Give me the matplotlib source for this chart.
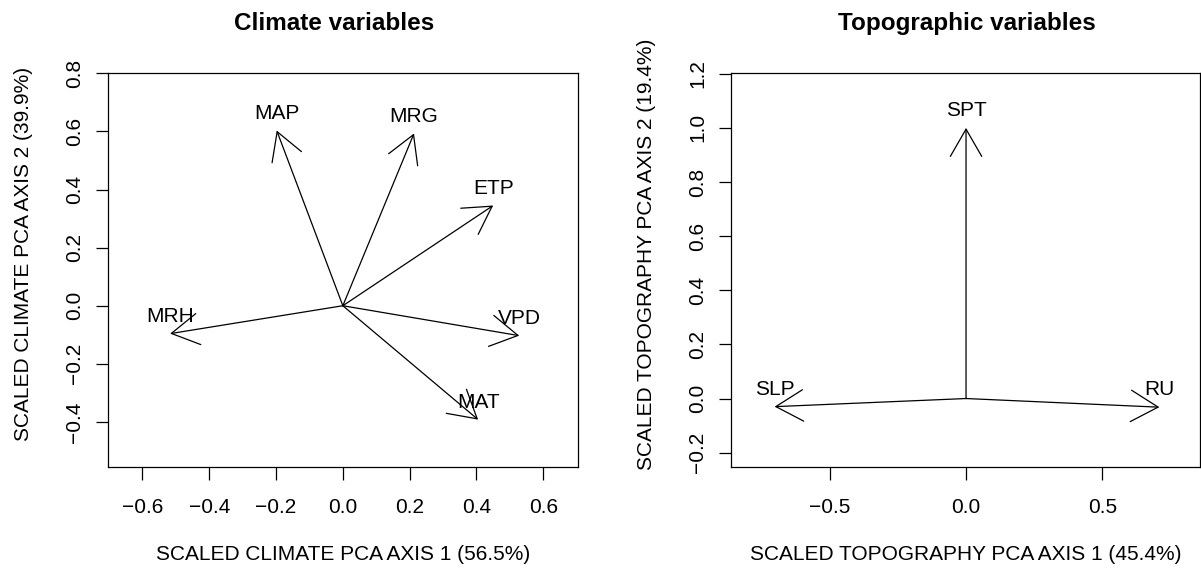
import numpy as np
import matplotlib
matplotlib.use("Agg")
import matplotlib.pyplot as plt
from matplotlib.patches import FancyArrowPatch

plt.rcParams['font.family'] = ['Liberation Sans', 'DejaVu Sans']

# --- data ---
clim_names = ['MAP', 'MRG', 'ETP', 'VPD', 'MAT', 'MRH']
clim_x = [-0.198, 0.213, 0.450, 0.528, 0.405, -0.517]
clim_y = [0.603, 0.593, 0.345, -0.103, -0.392, -0.096]

topo_names = ['SPT', 'SLP', 'RU']
topo_x = [0.0, -0.702, 0.709]
topo_y = [1.0, -0.030, -0.032]

clim_xticks = [-0.6, -0.4, -0.2, 0.0, 0.2, 0.4, 0.6]
clim_yticks = [-0.4, -0.2, 0.0, 0.2, 0.4, 0.6, 0.8]
topo_xticks = [-0.5, 0.0, 0.5]
topo_yticks = [-0.2, 0.0, 0.2, 0.4, 0.6, 0.8, 1.0, 1.2]

W, H = 1201, 570
FS = 15
fig = plt.figure(figsize=(W / 100, H / 100), dpi=100)

top, bot = 72.7, 467
ax1 = fig.add_axes([108 / W, 1 - bot / H, (577.7 - 108) / W, (bot - top) / H])
ax2 = fig.add_axes([730.7 / W, 1 - bot / H, (1200 - 730.7) / W, (bot - top) / H])


def fmt(t):
    return f"{t:.1f}".replace('-', '\u2212')


def biplot(ax, names, xs, ys, xlim, ylim, xticks, yticks, title, xlabel, ylabel, title_x):
    for n, x, y in zip(names, xs, ys):
        arr = FancyArrowPatch((0, 0), (x, y), arrowstyle='->,head_length=19.6,head_width=11.3',
                              mutation_scale=1, shrinkA=0, shrinkB=0,
                              color='black', lw=0.9)
        ax.add_patch(arr)
        ax.annotate(n, (x, y), xytext=(0, 8.5), textcoords='offset points',
                    ha='center', va='baseline', fontsize=FS)
    ax.set_xlim(*xlim)
    ax.set_ylim(*ylim)
    ax.set_xticks(xticks)
    ax.set_yticks(yticks)
    ax.set_xticklabels([fmt(t) for t in xticks])
    ax.set_yticklabels([fmt(t) for t in yticks], rotation=90, va='center')
    ax.tick_params(direction='out', length=9, width=0.9, labelsize=FS)
    ax.tick_params(axis='x', pad=13)
    ax.tick_params(axis='y', pad=8)
    for s in ax.spines.values():
        s.set_linewidth(0.9)
    ax.set_title(title, fontsize=17.5, fontweight='bold', pad=31)
    ax.title.set_x(title_x)
    # axis label positions in pixels from the box
    wpx = ax.get_position().width * W
    hpx = ax.get_position().height * H
    ax.set_xlabel(xlabel, fontsize=FS, va='center')
    ax.set_ylabel(ylabel, fontsize=FS, va='center')
    ax.xaxis.set_label_coords(0.5, -88 / hpx)
    ax.yaxis.set_label_coords(-84.5 / wpx, (bot - 254) / hpx)


biplot(ax1, clim_names, clim_x, clim_y, (-0.703, 0.703), (-0.555, 0.802),
       clim_xticks, clim_yticks, 'Climate variables',
       'SCALED CLIMATE PCA AXIS 1 (56.5%)', 'SCALED CLIMATE PCA AXIS 2 (39.9%)', 0.481)
biplot(ax2, topo_names, topo_x, topo_y, (-0.863, 0.858), (-0.253, 1.204),
       topo_xticks, topo_yticks, 'Topographic variables',
       'SCALED TOPOGRAPHY PCA AXIS 1 (45.4%)', 'SCALED TOPOGRAPHY PCA AXIS 2 (19.4%)', 0.503)

fig.savefig('out.png', dpi=100)
